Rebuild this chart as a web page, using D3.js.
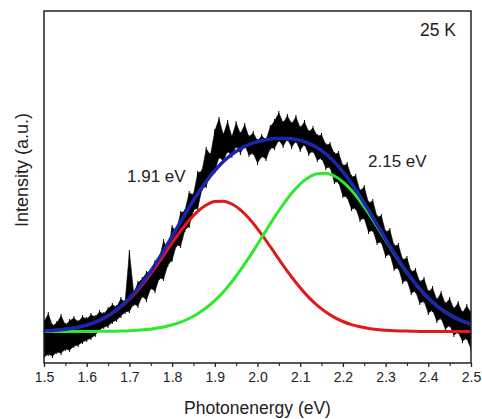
<!DOCTYPE html>
<html>
<head>
<meta charset="utf-8">
<script src="https://cdn.jsdelivr.net/npm/d3@7"></script>
<style>
  html, body { margin: 0; padding: 0; background: #fff; }
  svg { display: block; }
  text { font-family: "Liberation Sans", Arial, sans-serif; fill: #222; }
</style>
</head>
<body>
<svg id="chart" width="482" height="419"></svg>
<script>
// ---------------- data ----------------
// x grid of the fit curves: 1.50 .. 2.50 eV, step 0.02
const fitEnergy = d3.range(0, 51).map(i => +(1.5 + i * 0.02).toFixed(2));
// Gaussian component centred at 1.91 eV (red)
const peak191 = [32.2,32.6,33.3,34.3,35.8,37.9,40.8,44.7,49.7,56.1,63.9,73.1,83.7,95.3,107.6,120.0,132.0,142.7,151.6,158.0,161.5,161.8,159.0,153.1,144.7,134.2,122.5,110.1,97.7,86.0,75.2,65.6,57.6,50.9,45.6,41.5,38.4,36.2,34.6,33.5,32.7,32.2,32.0,31.8,31.6,31.6,31.5,31.5,31.5,31.5,31.5];
// Gaussian component centred at 2.15 eV (green)
const peak215 = [31.5,31.5,31.5,31.5,31.5,31.6,31.6,31.7,31.8,32.0,32.3,32.8,33.5,34.6,36.0,38.1,40.9,44.5,49.2,55.2,62.4,71.1,81.3,92.8,105.3,118.7,132.4,145.9,158.5,169.8,179.0,185.6,189.2,189.7,187.0,181.2,172.8,162.1,149.8,136.5,122.8,109.3,96.4,84.6,74.1,64.9,57.2,50.9,45.8,41.9,38.9];
// cumulative fit (blue)
const fitSum = [32.2,32.6,33.3,34.4,35.8,37.9,40.9,44.8,50.1,56.6,64.8,74.5,85.7,98.4,112.1,126.6,141.3,155.7,169.3,181.7,192.4,201.5,208.7,214.3,218.5,221.4,223.3,224.5,224.8,224.2,222.6,219.7,215.3,209.1,201.1,191.2,179.7,166.7,152.8,138.4,124.0,110.0,96.9,84.8,74.2,65.0,57.2,50.9,45.8,41.9,38.9];

// measured PL spectrum (noisy), upper / lower envelope every 0.01 eV
const dataEnergy = d3.range(0, 101).map(i => +(1.5 + i * 0.01).toFixed(2));
const dataHigh = [41,49,37,40,47,38,42,45,41,46,44,48,46,51,49,54,58,56,64,61,
  111,70,80,84,90,92,101,104,122,112,136,132,150,152,170,168,190,192,214,208,
  232,244,228,241,226,240,229,238,226,230,222,227,223,236,242,250,240,247,239,246,
  235,241,231,235,227,228,218,219,209,210,197,199,186,187,172,176,160,162,146,147,
  131,133,117,118,103,105,91,93,81,84,71,75,63,70,59,64,54,60,50,57,50];
const dataLow = [6,9,7,11,10,14,13,17,18,21,23,25,28,33,36,37,41,43,47,51,
  52,59,57,67,63,75,72,85,84,98,103,118,117,133,137,153,155,174,177,191,
  192,206,202,212,207,217,210,218,208,210,200,207,204,215,215,223,217,224,216,222,
  213,219,209,212,203,205,195,196,181,181,167,166,154,155,143,145,131,133,120,121,
  107,109,94,95,81,83,70,72,60,62,50,53,42,45,34,38,28,31,22,25,14];

const xTicks = [1.5,1.6,1.7,1.8,1.9,2.0,2.1,2.2,2.3,2.4,2.5];
const xMinorTicks = [1.55,1.65,1.75,1.85,1.95,2.05,2.15,2.25,2.35,2.45];
const peakLabels = [{text: "1.91 eV", e: 1.91}, {text: "2.15 eV", e: 2.15}];
const tempLabel = "25 K";

// ---------------- layout ----------------
const svg = d3.select("#chart");
const plot = {left: 44, right: 471, top: 11, bottom: 363};

const x = d3.scaleLinear().domain([1.5, 2.5]).range([plot.left, plot.right]);
const y = d3.scaleLinear().domain([0, 352]).range([plot.bottom, plot.top]);

svg.append("defs").append("clipPath").attr("id", "clip")
  .append("rect").attr("x", plot.left).attr("y", plot.top)
  .attr("width", plot.right - plot.left).attr("height", plot.bottom - plot.top);

const g = svg.append("g").attr("clip-path", "url(#clip)");

// noisy data band
const band = dataEnergy.map((e, i) => ({e, hi: dataHigh[i], lo: dataLow[i]}));
g.append("path")
  .datum(band)
  .attr("fill", "#000")
  .attr("stroke", "#000")
  .attr("stroke-width", 0.6)
  .attr("d", d3.area().x(d => x(d.e)).y0(d => y(d.lo)).y1(d => y(d.hi)));
g.selectAll("line.spike").data(band).join("line")
  .attr("class", "spike")
  .attr("x1", d => x(d.e)).attr("x2", d => x(d.e))
  .attr("y1", d => y(d.lo) + 2).attr("y2", d => y(d.hi) - 2)
  .attr("stroke", "#000").attr("stroke-width", 1);

// fit curves
const line = d3.line().x(d => x(d[0])).y(d => y(d[1])).curve(d3.curveMonotoneX);
const series = [
  {vals: peak191, color: "#e0191b", w: 3},
  {vals: peak215, color: "#2ee82e", w: 3},
  {vals: fitSum, color: "#1a25b0", w: 3.5}
];
series.forEach(s => {
  g.append("path")
    .datum(fitEnergy.map((e, i) => [e, s.vals[i]]))
    .attr("fill", "none")
    .attr("stroke", s.color)
    .attr("stroke-width", s.w)
    .attr("stroke-linejoin", "round")
    .attr("d", line);
});

// frame
svg.append("rect")
  .attr("x", plot.left).attr("y", plot.top)
  .attr("width", plot.right - plot.left).attr("height", plot.bottom - plot.top)
  .attr("fill", "none").attr("stroke", "#222").attr("stroke-width", 1.5);

// bottom axis
const xAxis = d3.axisBottom(x).tickValues(xTicks).tickFormat(d3.format(".1f"))
  .tickSizeInner(4).tickSizeOuter(0).tickPadding(5);
const ax = svg.append("g").attr("transform", `translate(0,${plot.bottom})`).call(xAxis);
ax.select(".domain").remove();
ax.selectAll(".tick line").attr("stroke", "#222").attr("stroke-width", 1.3);
ax.selectAll(".tick text").attr("font-size", 14).attr("fill", "#333")
  .attr("font-family", "Liberation Sans, Arial, sans-serif");

const xMinor = d3.axisBottom(x).tickValues(xMinorTicks).tickFormat("")
  .tickSizeInner(3).tickSizeOuter(0);
const axm = svg.append("g").attr("transform", `translate(0,${plot.bottom})`).call(xMinor);
axm.select(".domain").remove();
axm.selectAll(".tick line").attr("stroke", "#222").attr("stroke-width", 1.1);

// axis titles
svg.append("text")
  .attr("x", (plot.left + plot.right) / 2).attr("y", 414)
  .attr("text-anchor", "middle").attr("font-size", 17.5)
  .text("Photonenergy (eV)");
svg.append("text")
  .attr("transform", `translate(28,170) rotate(-90)`)
  .attr("text-anchor", "middle").attr("font-size", 18)
  .text("Intensity (a.u.)");

// annotations
svg.append("text").attr("x", 127).attr("y", 182).attr("font-size", 17).text(peakLabels[0].text);
svg.append("text").attr("x", 368).attr("y", 167).attr("font-size", 17).text(peakLabels[1].text);
svg.append("text").attr("x", 420).attr("y", 36).attr("font-size", 17.5).text(tempLabel);
</script>
</body>
</html>
